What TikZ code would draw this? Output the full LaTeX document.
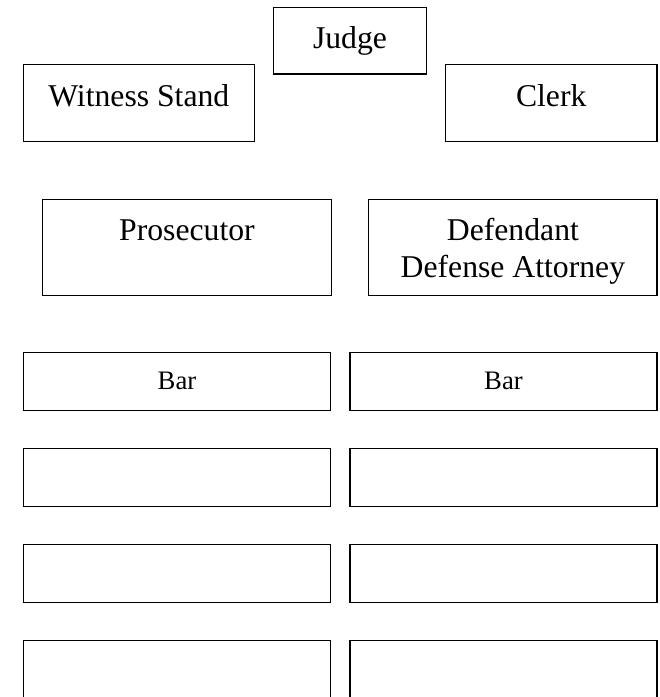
\documentclass[tikz,border=0pt]{standalone}
\usepackage{fontspec}
\setmainfont{Liberation Serif}
\usetikzlibrary{positioning}

\tikzset{seat/.style={draw, line width=1.2pt, inner sep=0pt, outer sep=0pt, anchor=north west},
  bigtext/.style={font=\fontsize{31.7}{37}\selectfont},
  bartext/.style={font=\fontsize{26.7}{31}\selectfont}}

\begin{document}
\begin{tikzpicture}[x=1pt,y=-1pt]
\useasboundingbox (0,0) rectangle (660,697);
% bench
\node[seat, bigtext, minimum width=153.4, text height=41, text depth=25.7] (judge) at (273.3,7.3) {Judge};
\node[seat, bigtext, minimum width=231, text height=41.3, text depth=35.5] (witness) at (23.3,64.7) {Witness Stand};
\node[seat, bigtext, minimum width=211.5, text height=41.3, text depth=35.5] (clerk) at (445.5,64.7) {Clerk};
% tables
\node[seat, bigtext, minimum width=288.9, text height=40.7, text depth=55.3] (prosecutor) at (42.5,199.3) {Prosecutor};
\node[seat, bigtext, align=center, minimum width=288.2, text height=77.7, text depth=18.3] (defense) at (368.8,199.3) {Defendant\\Defense Attorney};
% bar and gallery
\node[seat, bartext, minimum width=307.4, text height=36.3, text depth=21.7] (barL) at (23.3,352.7) {Bar};
\node[seat, bartext, minimum width=307, text height=36.3, text depth=21.7] (barR) at (350,352.7) {Bar};
\foreach \y [count=\i] in {448.7,544.7,640.7} {
  \node[seat, minimum width=307.4, minimum height=58] (rowL\i) at (23.3,\y) {};
  \node[seat, minimum width=307, minimum height=58] (rowR\i) at (350,\y) {};
}
\end{tikzpicture}
\end{document}
